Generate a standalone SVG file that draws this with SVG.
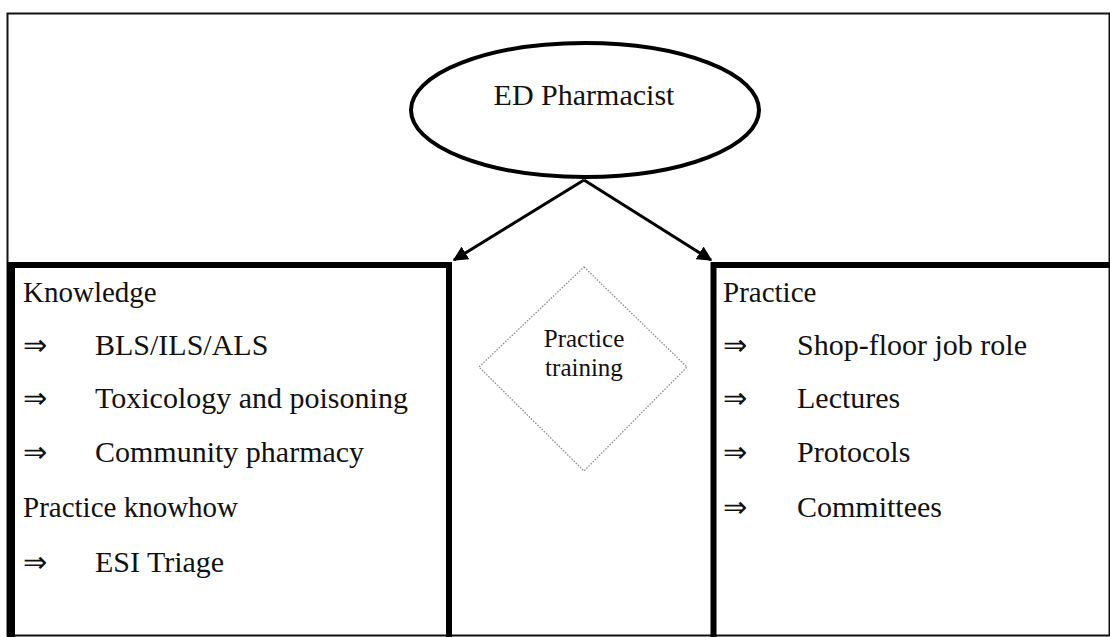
<svg xmlns="http://www.w3.org/2000/svg" width="1110" height="637" viewBox="0 0 1110 637">
  <style>
    .txt { font-family: "Liberation Serif", "Times New Roman", serif; fill: #111; }
    .big { font-size: 30px; }
    .mid { font-size: 29px; }
    .small { font-size: 25px; }
    .frame { fill: none; stroke: #111; }
  </style>
  <defs>
    <marker id="arrow" viewBox="0 0 10 10" refX="9" refY="5" markerWidth="5" markerHeight="5" orient="auto" markerUnits="strokeWidth">
      <path d="M0,0 L10,5 L0,10 z" fill="#000"/>
    </marker>
  </defs>

  <rect x="0" y="0" width="1110" height="637" fill="#fff"/>

  <!-- outer frame -->
  <rect class="frame" x="7.5" y="13.5" width="1102" height="622" stroke-width="2"/>

  <!-- root node -->
  <g id="ed-pharmacist">
    <ellipse cx="585" cy="110" rx="174" ry="67" fill="#fff" stroke="#000" stroke-width="4"/>
    <text class="txt big" x="584" y="105" text-anchor="middle">ED Pharmacist</text>
  </g>

  <!-- connectors -->
  <g id="connectors" stroke="#000" stroke-width="3" fill="none">
    <line x1="584" y1="180" x2="454" y2="260" marker-end="url(#arrow)"/>
    <line x1="584" y1="180" x2="711" y2="260" marker-end="url(#arrow)"/>
  </g>

  <!-- knowledge panel -->
  <g id="knowledge">
    <path d="M7,265 H449 V637" fill="none" stroke="#000" stroke-width="6"/>
    <rect x="7" y="262" width="8" height="375" fill="#000"/>
    <text class="txt mid" x="23" y="302">Knowledge</text>
    <text class="txt mid" x="23" y="355">⇒</text>
    <text class="txt big" x="95" y="355">BLS/ILS/ALS</text>
    <text class="txt mid" x="23" y="408">⇒</text>
    <text class="txt big" x="95" y="408">Toxicology and poisoning</text>
    <text class="txt mid" x="23" y="462">⇒</text>
    <text class="txt big" x="95" y="462">Community pharmacy</text>
    <text class="txt mid" x="23" y="517">Practice knowhow</text>
    <text class="txt mid" x="23" y="572">⇒</text>
    <text class="txt big" x="95" y="572">ESI Triage</text>
  </g>

  <!-- practice training decision -->
  <g id="practice-training">
    <polygon points="584,267 687,367 584,471 479,367" fill="none" stroke="#888" stroke-width="1.3" stroke-dasharray="1.5,1.5"/>
    <text class="txt small" x="584" y="347" text-anchor="middle">Practice</text>
    <text class="txt small" x="584" y="376" text-anchor="middle">training</text>
  </g>

  <!-- practice panel -->
  <g id="practice">
    <path d="M713.5,637 V265 H1110" fill="none" stroke="#000" stroke-width="6"/>
    <text class="txt mid" x="723" y="302">Practice</text>
    <text class="txt mid" x="723" y="355">⇒</text>
    <text class="txt big" x="797" y="355">Shop-floor job role</text>
    <text class="txt mid" x="723" y="408">⇒</text>
    <text class="txt big" x="797" y="408">Lectures</text>
    <text class="txt mid" x="723" y="462">⇒</text>
    <text class="txt big" x="797" y="462">Protocols</text>
    <text class="txt mid" x="723" y="517">⇒</text>
    <text class="txt big" x="797" y="517">Committees</text>
  </g>
</svg>
